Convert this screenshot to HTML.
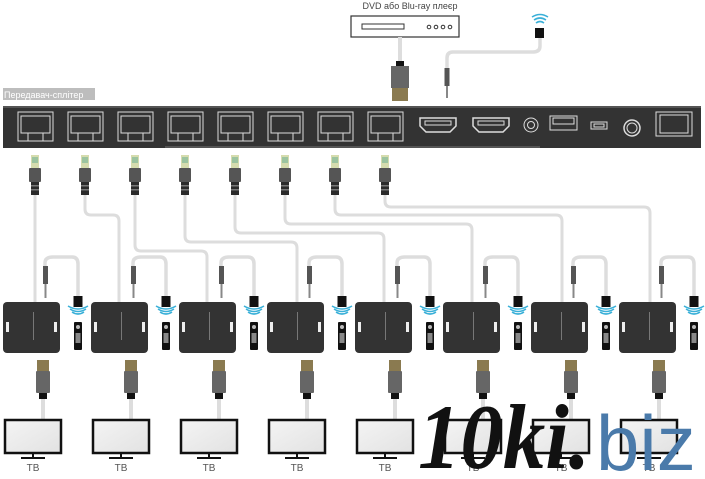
<!DOCTYPE html>
<html><head><meta charset="utf-8"><style>
html,body{margin:0;padding:0;background:#fff;}
svg{display:block;}
</style></head><body>
<svg width="705" height="479" viewBox="0 0 705 479" xmlns="http://www.w3.org/2000/svg" font-family="Liberation Sans, DejaVu Sans, sans-serif">
<defs>
<linearGradient id="scr" x1="0" y1="0" x2="1" y2="1"><stop offset="0" stop-color="#f4f4f4"/><stop offset="1" stop-color="#e2e2e2"/></linearGradient>
<g id="rj">
  <rect x="-4" y="155" width="8" height="13" fill="#d6dcae"/>
  <rect x="-3" y="157" width="6" height="6" fill="#9cc4a0"/>
  <rect x="-6" y="168" width="12" height="14" fill="#555" rx="1"/>
  <rect x="-4" y="182" width="8" height="13" fill="#2a2a2a"/>
  <rect x="-4" y="185" width="8" height="1.5" fill="#777"/><rect x="-4" y="189" width="8" height="1.5" fill="#777"/>
</g>
<g id="rx">
  <path d="M42 268 V263 Q42 257 50 257 H69 Q75 257 75 264 V298" fill="none" stroke="#ddd" stroke-width="3.5"/>
  <rect x="40" y="266" width="5" height="18" fill="#555"/>
  <rect x="41.5" y="284" width="2" height="14" fill="#888"/>
  <rect x="70.5" y="296" width="9" height="11" fill="#111"/>
  <path d="M69 312 Q75 316 81 312 M67 309 Q75 314 83 309 M65 306 Q75 312 85 306" fill="none" stroke="#3ab0d8" stroke-width="1.6"/>
  <rect x="71" y="322" width="8" height="28" fill="#111" rx="1"/>
  <circle cx="75" cy="327" r="2" fill="#bbb"/>
  <rect x="72.5" y="333" width="5" height="10" fill="#888"/>
  <rect x="0" y="302" width="57" height="51" fill="#333" rx="4"/>
  <rect x="3" y="322" width="3" height="10" fill="#eee"/>
  <rect x="51" y="322" width="3" height="10" fill="#eee"/>
  <rect x="30" y="312" width="1" height="28" fill="#777"/>
  <path d="M40 399 V420" stroke="#ddd" stroke-width="4"/>
  <rect x="34" y="360" width="12" height="11" fill="#8a7a50"/>
  <rect x="33" y="371" width="14" height="22" fill="#666" rx="1"/>
  <rect x="36" y="393" width="8" height="6" fill="#111"/>
  <rect x="2" y="420" width="56" height="33" fill="url(#scr)" stroke="#111" stroke-width="2.5"/>
  <rect x="29" y="453" width="2" height="4" fill="#111"/>
  <rect x="18" y="457" width="24" height="2" fill="#111"/>
  <text x="30" y="471" font-size="10" fill="#555" text-anchor="middle">ТВ</text>
</g>
</defs>

<!-- DVD -->
<text x="410" y="9" font-size="9" fill="#444" text-anchor="middle">DVD або Blu-ray плеєр</text>
<rect x="351" y="16" width="108" height="21" fill="#fff" stroke="#333" stroke-width="1.2"/>
<rect x="362" y="24" width="42" height="5" fill="none" stroke="#333"/>
<circle cx="429" cy="27" r="1.8" fill="none" stroke="#333"/><circle cx="436" cy="27" r="1.8" fill="none" stroke="#333"/><circle cx="443" cy="27" r="1.8" fill="none" stroke="#333"/><circle cx="450" cy="27" r="1.8" fill="none" stroke="#333"/>
<path d="M400 37 V62" stroke="#ddd" stroke-width="4"/>
<rect x="396" y="61" width="8" height="5" fill="#111"/>
<rect x="391" y="66" width="18" height="22" fill="#666"/>
<rect x="392" y="88" width="16" height="13" fill="#8a7a50"/>
<path d="M540 38 V46 Q540 52 533 52 H453 Q447 52 447 58 V70" fill="none" stroke="#ddd" stroke-width="3.5"/>
<rect x="444.5" y="68" width="5" height="18" fill="#555"/>
<rect x="446" y="86" width="2" height="12" fill="#888"/>
<rect x="535" y="28" width="9" height="10" fill="#111"/>
<path d="M536 23 Q540 20 544 23 M534 20 Q540 16 546 20 M532 17 Q540 12 548 17" fill="none" stroke="#3ab0d8" stroke-width="1.6"/>

<!-- label -->
<rect x="3" y="88" width="92" height="12" fill="#bdbdbd"/>
<text x="4" y="98" font-size="9" fill="#fff">Передавач-сплітер</text>

<!-- splitter -->
<rect x="3" y="106" width="698" height="42" fill="#333"/>
<rect x="3" y="106" width="698" height="2" fill="#555"/>
<path d="M165 147 H540" stroke="#777" stroke-width="1"/>
<g fill="none" stroke="#ddd" stroke-width="1">
<rect x="18" y="112" width="35" height="29"/><rect x="21" y="116" width="29" height="17"/><rect x="28" y="133" width="15" height="8"/>
<rect x="68" y="112" width="35" height="29"/><rect x="71" y="116" width="29" height="17"/><rect x="78" y="133" width="15" height="8"/>
<rect x="118" y="112" width="35" height="29"/><rect x="121" y="116" width="29" height="17"/><rect x="128" y="133" width="15" height="8"/>
<rect x="168" y="112" width="35" height="29"/><rect x="171" y="116" width="29" height="17"/><rect x="178" y="133" width="15" height="8"/>
<rect x="218" y="112" width="35" height="29"/><rect x="221" y="116" width="29" height="17"/><rect x="228" y="133" width="15" height="8"/>
<rect x="268" y="112" width="35" height="29"/><rect x="271" y="116" width="29" height="17"/><rect x="278" y="133" width="15" height="8"/>
<rect x="318" y="112" width="35" height="29"/><rect x="321" y="116" width="29" height="17"/><rect x="328" y="133" width="15" height="8"/>
<rect x="368" y="112" width="35" height="29"/><rect x="371" y="116" width="29" height="17"/><rect x="378" y="133" width="15" height="8"/>
<path d="M420 118 H456 V126 L450 132 H426 L420 126 Z" stroke-width="1.5"/><rect x="425" y="121" width="26" height="4"/>
<path d="M473 118 H509 V126 L503 132 H479 L473 126 Z" stroke-width="1.5"/><rect x="478" y="121" width="26" height="4"/>
<circle cx="531" cy="125" r="7"/><circle cx="531" cy="125" r="3.5"/>
<rect x="550" y="116" width="27" height="14"/><rect x="553" y="118" width="21" height="6"/>
<rect x="591" y="122" width="16" height="7"/><rect x="594" y="124" width="10" height="3"/>
<circle cx="632" cy="128" r="8" stroke-width="1.5"/><circle cx="632" cy="128" r="5"/>
<rect x="656" y="112" width="36" height="24"/><rect x="660" y="115" width="28" height="18"/>
</g>

<!-- cat cables -->
<g fill="none" stroke="#ddd" stroke-width="3">
<path d="M35 195 V302"/>
<path d="M85 195 V209 Q85 215 91 215 H113 Q119 215 119 221 V302"/>
<path d="M135 195 V245 Q135 251 141 251 H201 Q207 251 207 257 V302"/>
<path d="M185 195 V236 Q185 242 191 242 H291 Q297 242 297 248 V302"/>
<path d="M235 195 V227 Q235 233 241 233 H378 Q384 233 384 239 V302"/>
<path d="M285 195 V218 Q285 224 291 224 H466 Q472 224 472 230 V302"/>
<path d="M335 195 V209 Q335 215 341 215 H556 Q562 215 562 221 V302"/>
<path d="M385 195 V201 Q385 207 391 207 H644 Q650 207 650 213 V302"/>
</g>
<use href="#rj" x="35"/><use href="#rj" x="85"/><use href="#rj" x="135"/><use href="#rj" x="185"/>
<use href="#rj" x="235"/><use href="#rj" x="285"/><use href="#rj" x="335"/><use href="#rj" x="385"/>

<use href="#rx" x="3"/><use href="#rx" x="91"/><use href="#rx" x="179"/><use href="#rx" x="267"/>
<use href="#rx" x="355"/><use href="#rx" x="443"/><use href="#rx" x="531"/><use href="#rx" x="619"/>

<!-- watermark -->
<text x="418" y="468" font-size="92" font-style="italic" font-weight="bold" fill="#111" font-family="Liberation Serif, serif" textLength="172" lengthAdjust="spacingAndGlyphs">10ki.</text>
<text x="596" y="470" font-size="78" fill="#4a7aaa" font-family="Liberation Sans, sans-serif">biz</text>
</svg>
</body></html>
